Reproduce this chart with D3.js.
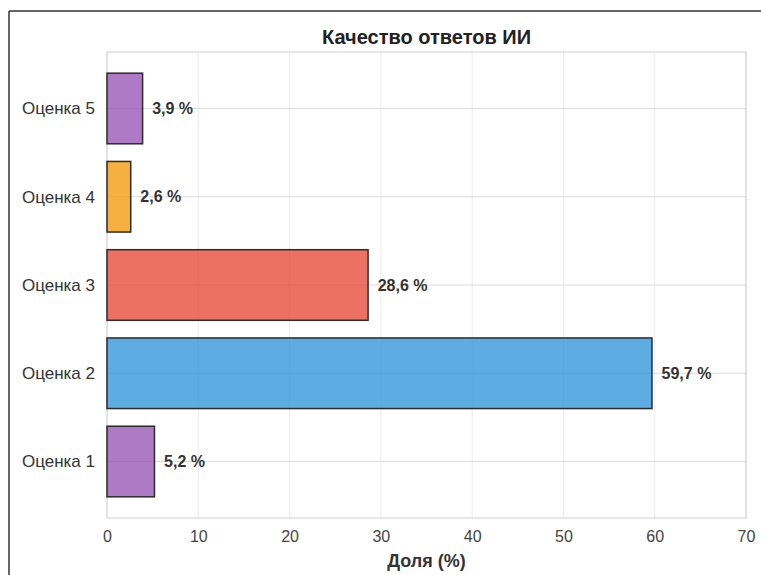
<!DOCTYPE html>
<html><head><meta charset="utf-8">
<script src="https://cdn.jsdelivr.net/npm/d3@7"></script>
<style>body{margin:0;background:#fff}svg{display:block}text{font-family:"Liberation Sans",Arial,sans-serif}</style>
</head><body>
<svg id="c" width="761" height="575"></svg>
<script>
const categories = ["Оценка 1","Оценка 2","Оценка 3","Оценка 4","Оценка 5"];
const values = [5.2, 59.7, 28.6, 2.6, 3.9];
const colors = ["#9b59b6","#3498db","#e74c3c","#f39c12","#9b59b6"];
const xTicks = [0,10,20,30,40,50,60,70];
const title = "Качество ответов ИИ";
const xLabel = "Доля (%)";

const svg = d3.select("#c");
const L = 107, R = 746, T = 52, B = 518;
const x = d3.scaleLinear().domain([0,70]).range([L,R]);
const y = d3.scaleLinear().domain([-0.64,4.64]).range([B,T]);
const barH = y(0) - y(0.8);

// figure border (top & left)
svg.append("line").attr("x1",9).attr("x2",761).attr("y1",11).attr("y2",11).attr("stroke","#333").attr("stroke-width",1.5);
svg.append("line").attr("x1",9).attr("x2",9).attr("y1",11).attr("y2",575).attr("stroke","#333").attr("stroke-width",1.5);

// grid
svg.append("g").selectAll("line").data(xTicks).join("line")
  .attr("x1",d=>x(d)).attr("x2",d=>x(d)).attr("y1",T).attr("y2",B)
  .attr("stroke","#ebebeb").attr("stroke-width",1);
svg.append("g").selectAll("line").data(categories).join("line")
  .attr("x1",L).attr("x2",R).attr("y1",(d,i)=>y(i)).attr("y2",(d,i)=>y(i))
  .attr("stroke","#dcdcdc").attr("stroke-width",1);

// frame
svg.append("rect").attr("x",L).attr("y",T).attr("width",R-L).attr("height",B-T)
  .attr("fill","none").attr("stroke","#d6d6d6").attr("stroke-width",1.2);

// bars
svg.append("g").selectAll("rect").data(values).join("rect")
  .attr("x",x(0)).attr("y",(d,i)=>y(i)-barH/2)
  .attr("width",d=>x(d)-x(0)).attr("height",barH)
  .attr("fill",(d,i)=>colors[i]).attr("fill-opacity",0.8)
  .attr("stroke","#2b2b2b").attr("stroke-width",1.5);

// value labels
svg.append("g").selectAll("text").data(values).join("text")
  .attr("x",d=>x(d+1.05)).attr("y",(d,i)=>y(i)).attr("dy","0.35em")
  .attr("font-size",16).attr("font-weight","bold").attr("fill","#333")
  .text(d=>d.toFixed(1).replace(".",",")+" %");

// x axis
const xAxis = d3.axisBottom(x).tickValues(xTicks).tickSize(0).tickPadding(0);
const gx = svg.append("g").attr("transform",`translate(0,${B})`).call(xAxis);
gx.select(".domain").remove();
gx.selectAll("text").attr("font-size",16).attr("fill","#444").attr("y",13)
  .style("font-family","'Liberation Sans',Arial,sans-serif");

// y axis
const yAxis = d3.axisLeft(y).tickValues([0,1,2,3,4]).tickFormat(i=>categories[i]).tickSize(0).tickPadding(12);
const gy = svg.append("g").attr("transform",`translate(${L},0)`).call(yAxis);
gy.select(".domain").remove();
gy.selectAll("text").attr("font-size",17).attr("fill","#333")
  .style("font-family","'Liberation Sans',Arial,sans-serif");

// title & axis label
svg.append("text").attr("x",(L+R)/2).attr("y",44).attr("text-anchor","middle")
  .attr("font-size",20).attr("font-weight","bold").attr("fill","#222").text(title);
svg.append("text").attr("x",(L+R)/2).attr("y",567).attr("text-anchor","middle")
  .attr("font-size",18).attr("font-weight","bold").attr("fill","#333").text(xLabel);
</script>
</body></html>
